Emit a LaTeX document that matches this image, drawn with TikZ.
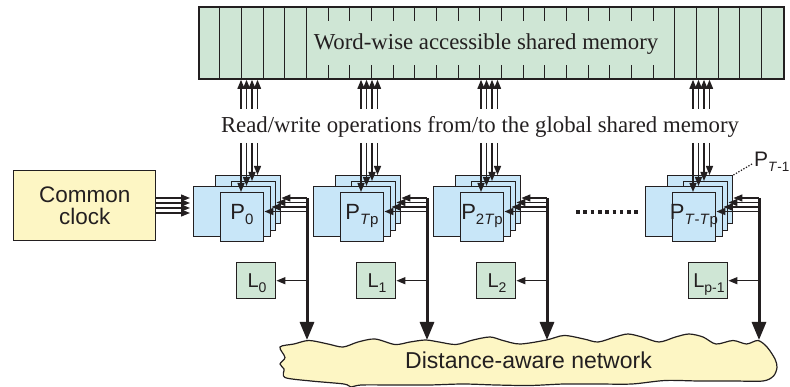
\documentclass[tikz,border=0pt]{standalone}
\usepackage{fontspec}
\setmainfont{Liberation Serif}
\setsansfont{Liberation Sans}
\usetikzlibrary{arrows.meta,calc}
\definecolor{ink}{RGB}{35,31,32}
\definecolor{memgreen}{RGB}{207,230,213}
\definecolor{procblue}{RGB}{200,230,248}
\definecolor{paleyellow}{RGB}{253,246,196}
\newcommand\psb[1]{\raisebox{-5pt}{\fontsize{15}{15}\selectfont #1}}
\newcommand\lsb[1]{\raisebox{-5pt}{\fontsize{14}{14}\selectfont #1}}
\begin{document}
\begin{tikzpicture}[x=1pt,y=-1pt,
  box/.style={draw=ink, line width=1.4pt, inner sep=0pt, anchor=north west},
  pbox/.style={box, fill=procblue},
  lbox/.style={box, fill=memgreen, minimum width=39pt, minimum height=36pt},
  tarr/.style={draw=ink, line width=1.4pt, -{Triangle[length=9pt,width=7pt]}},
  barr/.style={draw=ink, line width=3pt, -{Triangle[length=18pt,width=14pt]}},
  thinline/.style={draw=ink, line width=1pt},
  serif/.style={font=\fontsize{22.8}{24}\selectfont, text=ink, inner sep=0pt},
  sans/.style={font=\sffamily\fontsize{22.5}{22}\selectfont, text=ink, inner sep=0pt}
]
\useasboundingbox (0,0) rectangle (790,387);

% shared memory
\node[box, fill=memgreen, line width=1.8pt, minimum width=585pt, minimum height=72pt] (mem) at (198,6) {};
\foreach \k in {1,2,3,4,5,22,23,24,25,26}
  \draw[thinline] ($(mem.north west)+(\k*21.667,0)$) -- ($(mem.south west)+(\k*21.667,0)$);
\foreach \k in {6,...,21}{
  \draw[thinline] ($(mem.north west)+(\k*21.667,0)$) -- ++(0,15);
  \draw[thinline] ($(mem.south west)+(\k*21.667,0)$) -- ++(0,-15);
}
\node[serif, anchor=base] (memtxt) at (486,50) {Word-wise accessible shared memory};
\node[serif, anchor=base] (rw) at (480,133) {Read/write operations from/to the global shared memory};

% network cloud
\draw[ink, line width=1.2pt, fill=paleyellow] plot[smooth cycle, tension=0.5] coordinates {
(280,347) (294,344) (309,340.5) (328,344) (343,347) (358,342) (375,339) (395,344.5) (410,342) (425.5,340) (439,342) (456,344.5) (473,340) (490,337) (503,340.5) (520,344) (546.5,340) (564,335.5) (584,339) (598,342) (615,337) (628,334) (642,337) (659,342) (675.5,337) (689,334) (703,337) (716,344) (733,340.5) (746.5,344) (758,340.5) (767,347) (775,359) (777,367.5) (773.5,376) (763,381) (733,381) (699,381) (665,380.5) (632,384) (598,384) (564,384) (530,385.5) (496,385) (463,384) (429,385) (395,385) (361,385) (351,387) (344,384) (311,381) (285,377.5) (284,369) (280,364) (285,357.5)};
\node[sans, font=\sffamily\fontsize{23}{23}\selectfont, anchor=base] (net) at (528.5,369) {Distance-aware network};
\coordinate (nettop) at (0,340);

% common clock
\node[box, fill=paleyellow, minimum width=142pt, minimum height=70pt] (clock) at (13,170) {};
\node[sans, align=center] (clocktxt) at (clock.center) {Common\\clock};
\foreach \i/\yy in {1/198,2/203,3/208,4/213}{
  \coordinate (ck\i) at (190,\yy);
  \draw[tarr] (clock.east |- ck\i) -- (ck\i);
}

% processor groups
\foreach \g/\o/\plab/\llab in {0/0/{0}/{0}, 1/120/{\textit{T}p}/{1}, 2/240/{2\textit{T}p}/{2}, 3/452/{\textit{T}-\textit{T}p}/{p-1}} {
  \node[pbox, minimum width=65pt, minimum height=48pt] (A\g) at (215+\o,175) {};
  \node[pbox, minimum width=44pt, minimum height=49pt] (B\g) at (231+\o,181) {};
  \node[pbox, minimum width=77pt, minimum height=50pt] (C\g) at (193+\o,186) {};
  \node[pbox, minimum width=43pt, minimum height=49pt] (E\g) at (220+\o,192) {};
  \node[sans, font=\sffamily\fontsize{22}{22}\selectfont, anchor=base] (P\g) at (242+\o,220) {P\psb{\plab}};
  \node[lbox] (L\g) at (236+\o,262) {};
  \node[sans, font=\sffamily\fontsize{20}{20}\selectfont, anchor=base] (Lt\g) at (257+\o,288) {L\lsb{\llab}};
  \foreach \i/\dx/\tgt in {1/241/E, 2/246.5/C, 3/252/B, 4/257.5/A} {
    \coordinate (u\g-\i) at (\dx+\o,109);
    \draw[tarr] (u\g-\i) -- (u\g-\i |- mem.south);
    \coordinate (d\g-\i) at (\dx+\o,143);
    \draw[tarr] (d\g-\i) -- (d\g-\i |- \tgt\g.north);
  }
  \coordinate (V\g) at (307+\o,198);
  \foreach \i/\yy/\tgt in {1/198/A, 2/202.5/B, 3/207/C, 4/211.5/E} {
    \coordinate (h\g-\i) at (307+\o,\yy);
    \draw[tarr] (h\g-\i) -- (\tgt\g.east |- h\g-\i);
  }
  \draw[barr] (V\g) -- (V\g |- nettop);
  \draw[tarr] (V\g |- L\g.east) -- (L\g.east);
}

% dots between groups
\coordinate (dotsL) at (576,212);
\coordinate (dotsR) at (640,212);
\draw[ink, line width=3.6pt, dash pattern=on 3.6pt off 3.7pt] (dotsL) -- (dotsR);

% P_{T-1} label
\node[sans, font=\sffamily\fontsize{21}{21}\selectfont, anchor=base west] (ptm) at (754,167) {P\raisebox{-4.5pt}{\fontsize{13.5}{13.5}\selectfont\textit{T}-1}};
\coordinate (ptmlead) at (752,164);
\draw[ink, line width=1.2pt, dash pattern=on 1.3pt off 1.6pt] (A3.north east) -- (ptmlead);
\end{tikzpicture}
\end{document}
